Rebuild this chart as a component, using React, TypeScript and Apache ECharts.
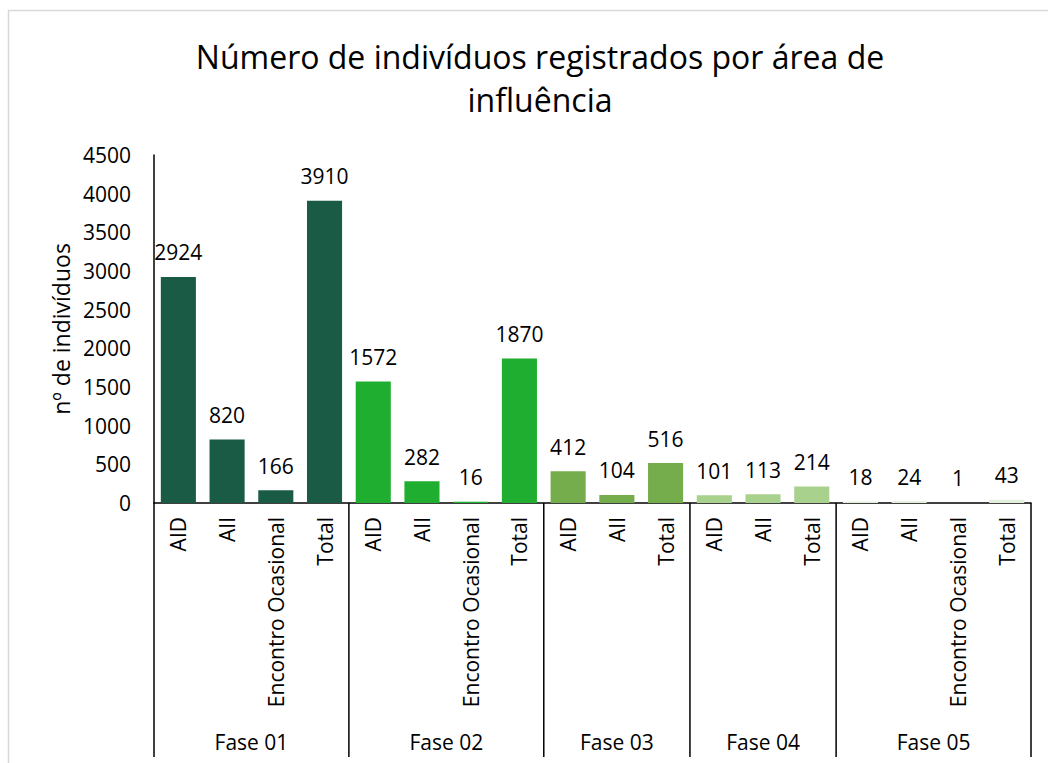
import React, { useEffect, useRef } from "react";
import * as echarts from "echarts";

const categories = [
  "AID", "AII", "Encontro Ocasional", "Total",
  "AID", "AII", "Encontro Ocasional", "Total",
  "AID", "AII", "Total",
  "AID", "AII", "Total",
  "AID", "AII", "Encontro Ocasional", "Total",
];
const values = [2924, 820, 166, 3910, 1572, 282, 16, 1870, 412, 104, 516, 101, 113, 214, 18, 24, 1, 43];
const phaseNames = ["Fase 01", "Fase 02", "Fase 03", "Fase 04", "Fase 05"];
const phaseSizes = [4, 4, 3, 3, 4];
const phaseColors = ["#1a5b45", "#1fae2f", "#76ad4c", "#a9d18e", "#e2efda"];
const yTicks = { min: 0, max: 4500, interval: 500 };

const FONT = "'Open Sans', 'Noto Sans', sans-serif";

export default function App() {
  const ref = useRef<HTMLDivElement>(null);
  useEffect(() => {
    document.body.style.margin = "0";
    const chart = echarts.init(ref.current!, null, { renderer: "svg" });
    const phaseOf: number[] = [];
    phaseSizes.forEach((n, p) => {
      for (let k = 0; k < n; k++) phaseOf.push(p);
    });
    chart.setOption({
      animation: false,
      backgroundColor: "#ffffff",
      textStyle: { fontFamily: FONT },
      title: {
        text: "Número de indivíduos registrados por área de\ninfluência",
        left: 535,
        top: 30,
        textAlign: "center",
        textStyle: { fontFamily: FONT, fontSize: 32, fontWeight: "normal", color: "#000", lineHeight: 43 },
      },
      grid: { left: 154, right: 17, top: 155, bottom: 260, containLabel: false },
      xAxis: {
        type: "category",
        data: categories.map((_, i) => String(i)),
        axisLine: { show: true, lineStyle: { color: "#000", width: 1.5 } },
        axisTick: { show: false },
        axisLabel: {
          rotate: 90,
          interval: 0,
          margin: 14,
          fontSize: 21,
          fontFamily: FONT,
          color: "#000",
          formatter: (_v: string, i: number) => categories[i],
        },
      },
      yAxis: {
        type: "value",
        min: yTicks.min,
        max: yTicks.max,
        interval: yTicks.interval,
        name: "nº de indivíduos",
        nameLocation: "middle",
        nameGap: 82,
        nameRotate: 90,
        nameTextStyle: { fontSize: 23, fontFamily: FONT, color: "#000" },
        axisLine: { show: true, lineStyle: { color: "#000", width: 1.5 } },
        axisTick: { show: false },
        splitLine: { show: false },
        axisLabel: {
          fontSize: 21,
          fontFamily: FONT,
          color: "#000",
          margin: 23,
          formatter: (v: number) => String(v),
        },
      },
      series: [
        {
          type: "bar",
          barCategoryGap: "28%",
          data: values.map((v, i) => ({ value: v, itemStyle: { color: phaseColors[phaseOf[i]] } })),
          label: {
            show: true,
            position: "top",
            distance: 14,
            fontSize: 21,
            fontFamily: FONT,
            color: "#000",
          },
        },
      ],
    });

    // group separators and phase labels from the axis scale
    const px = (i: number) => chart.convertToPixel({ xAxisIndex: 0 }, i) as number;
    const step = px(1) - px(0);
    const yBase = chart.convertToPixel({ yAxisIndex: 0 }, 0) as number;
    const graphics: any[] = [
      {
        type: "rect",
        shape: { x: 8.5, y: 10.5, width: 1200, height: 900 },
        style: { fill: "none", stroke: "#d9d9d9", lineWidth: 1.5 },
        silent: true,
      },
    ];
    let start = 0;
    const bounds: number[] = [px(0) - step / 2];
    phaseSizes.forEach((n, p) => {
      const left = px(start) - step / 2;
      const right = px(start + n - 1) + step / 2;
      bounds.push(right);
      graphics.push({
        type: "text",
        x: (left + right) / 2,
        y: 742,
        style: { text: phaseNames[p], fontSize: 21, fontFamily: FONT, fill: "#000", align: "center", verticalAlign: "middle" },
      });
      start += n;
    });
    bounds.forEach((b) => {
      graphics.push({
        type: "line",
        shape: { x1: b, y1: yBase, x2: b, y2: 757 },
        style: { stroke: "#000", lineWidth: 1.5 },
      });
    });
    chart.setOption({ graphic: graphics });

    return () => chart.dispose();
  }, []);
  return <div ref={ref} style={{ width: 1048, height: 763 }} />;
}
